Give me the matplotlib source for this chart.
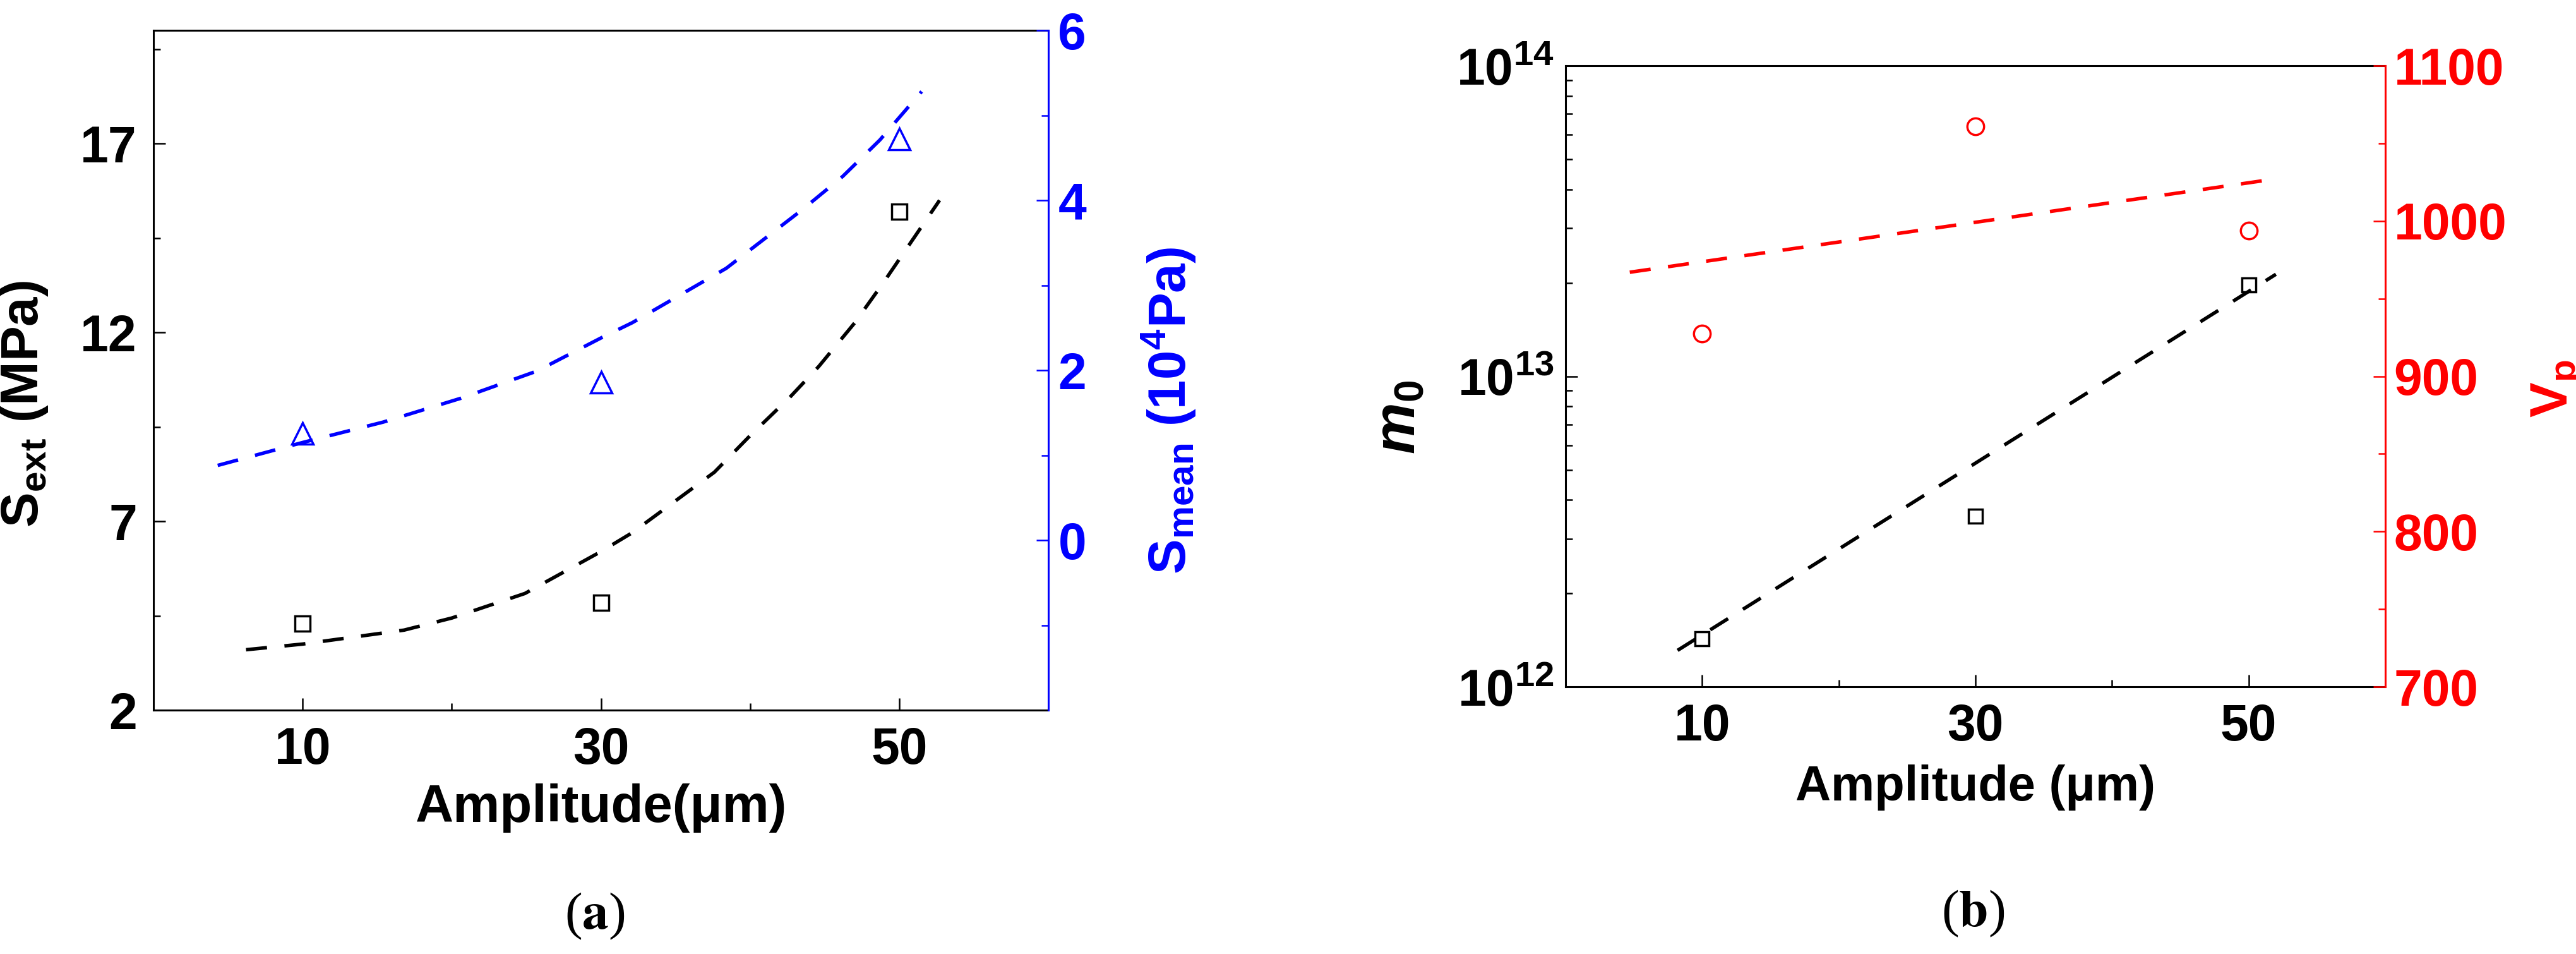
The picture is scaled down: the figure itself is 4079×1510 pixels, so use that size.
import matplotlib
matplotlib.use("Agg")
import matplotlib.pyplot as plt
from matplotlib.ticker import NullFormatter

plt.rcParams.update({
    "font.family": ["Liberation Sans", "DejaVu Sans"],
    "font.weight": "bold",
    "axes.labelweight": "bold",
    "mathtext.fontset": "custom",
    "mathtext.rm": "Liberation Sans:bold",
    "mathtext.bf": "Liberation Sans:bold",
    "mathtext.it": "Liberation Sans:italic:bold",
    "mathtext.bfit": "Liberation Sans:italic:bold",
})

# ── data ──
amp = [10, 30, 50]
s_ext = [4.3, 4.84, 15.2]            # MPa, left axis (a)
s_mean = [1.26, 1.86, 4.72]          # 10^4 Pa, right axis (a)
m0 = [1.43e12, 3.54e12, 1.97e13]     # left axis (b), log
vp = [927.5, 1061, 994]              # right axis (b)

# dashed fit curves
sext_fit_x = [6.2, 10, 16.8, 20, 24.9, 30, 32.1, 37.6, 40, 42.7, 44.6, 47, 48.9, 50.8, 52.7]
sext_fit_y = [3.6, 3.75, 4.12, 4.44, 5.09, 6.2, 6.7, 8.3, 9.27, 10.3, 11.1, 12.25, 13.3, 14.4, 15.5]
smean_fit_x = [4.3, 10, 15.4, 20.6, 25.7, 30, 32.1, 38.4, 43.5, 46.2, 48.7, 51.5]
smean_fit_y = [0.88, 1.15, 1.39, 1.67, 1.99, 2.38, 2.56, 3.2, 3.89, 4.28, 4.71, 5.28]
m0_fit_x = [8.2, 52.0]
m0_fit_y = [1.31e12, 2.13e13]
vp_fit_x = [4.7, 51.1]
vp_fit_y = [967, 1026]

BLUE = "#0000FF"
RED = "#FF0000"
TICK_FS = 58
LABEL_FS = 60
LW = 4.0
DASH = (0, (6, 5))

fig = plt.figure(figsize=(40.8, 15.1), dpi=100)


def style_axes(ax, axr, rcolor):
    for a in (ax, axr):
        a.tick_params(which="both", direction="in", width=1.8)
        a.tick_params(which="major", length=14)
        a.tick_params(which="minor", length=8)
    ax.spines["right"].set_visible(False)
    for s in ("left", "bottom", "top"):
        ax.spines[s].set_linewidth(2.2)
        axr.spines[s].set_visible(False)
    axr.spines["right"].set_linewidth(2.2)
    axr.spines["right"].set_color(rcolor)
    axr.tick_params(which="both", colors=rcolor, labelsize=TICK_FS)
    ax.tick_params(which="both", labelsize=TICK_FS, top=False, right=False)


# ── Panel (a) ──
ax1 = fig.add_axes([0.0596, 0.2556, 0.3473, 0.7126])
ax1r = ax1.twinx()
style_axes(ax1, ax1r, BLUE)

ax1.plot(sext_fit_x, sext_fit_y, color="black", lw=LW, ls=DASH)
ax1.plot(amp, s_ext, "s", ms=17, mfc="none", mec="black", mew=2.5)
ax1r.plot(smean_fit_x, smean_fit_y, color=BLUE, lw=LW, ls=DASH)
ax1r.plot(amp, s_mean, "^", ms=25, mfc="none", mec=BLUE, mew=2.5)

ax1.set_xlim(0, 60)
ax1.set_ylim(2, 20)
ax1r.set_ylim(-2, 6)
ax1.set_xticks([10, 30, 50])
ax1.set_xticks([20, 40], minor=True)
ax1.set_yticks([2, 7, 12, 17])
ax1.set_yticks([4.5, 9.5, 14.5, 19.5], minor=True)
ax1r.set_yticks([0, 2, 4, 6])
ax1r.set_yticks([-1, 1, 3, 5], minor=True)
ax1.tick_params(axis="x", pad=19)
ax1.tick_params(axis="y", pad=19)
ax1r.tick_params(axis="y", pad=11)

ax1.set_xlabel("Amplitude(\u03bcm)", fontsize=LABEL_FS)
ax1.xaxis.set_label_coords(0.5, -0.108)
ax1.set_ylabel(r"$\mathdefault{S}_{\mathdefault{ext}}$ (MPa)", fontsize=LABEL_FS)
ax1.yaxis.set_label_coords(-0.116, 0.45)
ax1r.set_ylabel(r"$\mathdefault{S}_{\mathdefault{mean}}$ ($\mathdefault{10}^{\mathdefault{4}}$Pa)",
                fontsize=LABEL_FS, color=BLUE)
ax1r.yaxis.set_label_coords(1.102, 0.44)

# ── Panel (b) ──
ax2 = fig.add_axes([0.6076, 0.2801, 0.3181, 0.651])
ax2r = ax2.twinx()
ax2.set_yscale("log")
style_axes(ax2, ax2r, RED)

ax2.plot(m0_fit_x, m0_fit_y, color="black", lw=LW, ls=DASH)
ax2.plot(amp, m0, "s", ms=16, mfc="none", mec="black", mew=2.5)
ax2r.plot(vp_fit_x, vp_fit_y, color=RED, lw=LW, ls=DASH)
ax2r.plot(amp, vp, "o", ms=19, mfc="none", mec=RED, mew=2.5)

ax2.set_xlim(0, 60)
ax2.set_ylim(1e12, 1e14)
ax2r.set_ylim(700, 1100)
ax2.set_xticks([10, 30, 50])
ax2.set_xticks([20, 40], minor=True)
ax2.yaxis.set_minor_formatter(NullFormatter())
ax2r.set_yticks([700, 800, 900, 1000, 1100])
ax2r.set_yticks([750, 850, 950, 1050], minor=True)
ax2.tick_params(axis="x", pad=19)
ax2.tick_params(axis="y", pad=13)
ax2r.tick_params(axis="y", pad=10)

ax2.set_xlabel("Amplitude (\u03bcm)", fontsize=56)
ax2.xaxis.set_label_coords(0.5, -0.125)
ax2.set_ylabel(r"$\mathbfit{m}_{\mathdefault{0}}$", fontsize=66)
ax2.yaxis.set_label_coords(-0.17, 0.434)
ax2r.set_ylabel(r"$\mathdefault{V}_{\mathdefault{p}}$", fontsize=LABEL_FS, color=RED)
ax2r.yaxis.set_label_coords(1.176, 0.48)

# panel tags
fig.text(942 / 4080, 1 - 1450 / 1510, r"($\mathbf{a}$)", family="Liberation Serif",
         math_fontfamily="stix", weight="normal", fontsize=60, ha="center", va="center")
fig.text(3124 / 4080, 1 - 1446 / 1510, r"($\mathbf{b}$)", family="Liberation Serif",
         math_fontfamily="stix", weight="normal", fontsize=60, ha="center", va="center")

fig.savefig("out.png", dpi=100)
plt.close(fig)
